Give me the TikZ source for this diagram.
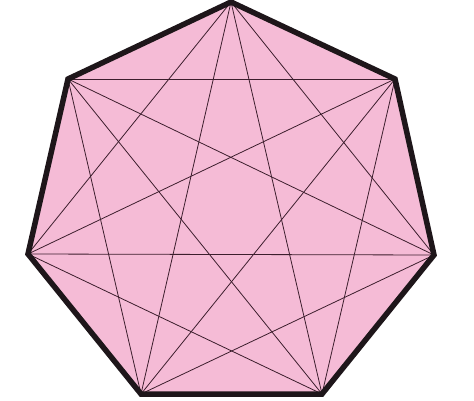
\documentclass[tikz,border=0pt]{standalone}
\begin{document}
\begin{tikzpicture}[x=1pt,y=-1pt,
  edgeline/.style={line width=5.5pt,draw={rgb,255:red,30;green,22;blue,26},line join=miter,miter limit=10},
  diag/.style={line width=0.8pt,draw={rgb,255:red,60;green,30;blue,45}}]
\definecolor{pinkfill}{RGB}{245,187,214}
\useasboundingbox (0,0) rectangle (474,401);
\fill[white] (0,0) rectangle (474,401);
\coordinate (v1) at (231,2);
\coordinate (v2) at (395,79);
\coordinate (v3) at (434,255);
\coordinate (v4) at (322,394);
\coordinate (v5) at (141,394);
\coordinate (v6) at (28,254);
\coordinate (v7) at (68,79);
\fill[pinkfill] (v1)--(v2)--(v3)--(v4)--(v5)--(v6)--(v7)--cycle;
\foreach \a/\b in {1/3,1/4,1/5,1/6,2/4,2/5,2/6,2/7,3/5,3/6,3/7,4/6,4/7,5/7}
  \draw[diag] (v\a)--(v\b);
\draw[edgeline] (v1)--(v2)--(v3)--(v4)--(v5)--(v6)--(v7)--cycle;
\end{tikzpicture}
\end{document}
